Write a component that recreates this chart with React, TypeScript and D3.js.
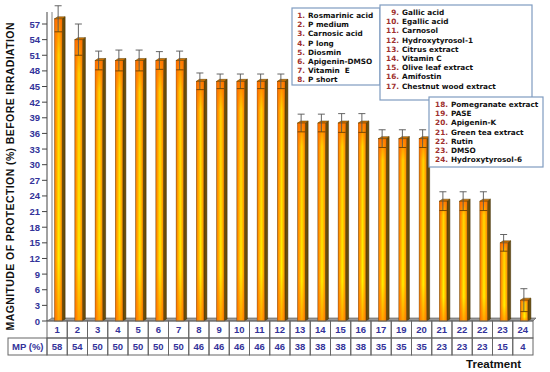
import React from "react";
import * as d3 from "d3";

// table header row (sic, as printed in the original)
const treatLabels = ["1", "2", "3", "4", "5", "6", "7", "8", "9", "10", "11", "12", "13", "14", "15", "16", "17", "19", "20", "21", "22", "22", "23", "24"];
const mpValues = [58, 54, 50, 50, 50, 50, 50, 46, 46, 46, 46, 46, 38, 38, 38, 38, 35, 35, 35, 23, 23, 23, 15, 4];
const errValues = [2.5, 3, 1.8, 2, 2, 1.7, 1.8, 1.6, 1.4, 1.4, 1.4, 1.4, 1.7, 1.7, 1.8, 1.8, 1.7, 1.7, 1.7, 1.8, 1.8, 1.8, 1.6, 2.2];
const yTicks = d3.range(0, 58, 3);

const legend1 = ["Rosmarinic acid", "P medium", "Carnosic acid", "P long", "Diosmin", "Apigenin-DMSO", "Vitamin  E", "P short"];
const legend2 = ["Gallic acid", "Egallic acid", "Carnosol", "Hydroxytyrosol-1", "Citrus extract", "Vitamin C", "Olive leaf extract", "Amifostin", "Chestnut wood extract"];
const legend3 = ["Pomegranate extract", "PASE", "Apigenin-K", "Green tea extract", "Rutin", "DMSO", "Hydroxytyrosol-6"];

const W = 550;
const H = 372;
const left = 47;
const right = 533;
const floorY = 321;
const blue = "#33339a";
const font = "Liberation Sans, Arial, sans-serif";
const legendFont = "DejaVu Sans, Verdana, sans-serif";

const x = d3
  .scaleBand<number>()
  .domain(d3.range(mpValues.length))
  .range([left, right]);
const y = d3.scaleLinear().domain([0, 57]).range([floorY, 24]);

const DX = 3;
const DY = -2;

function Legend({ items, start, bx, by, bw, bh, numX, nameX }: any) {
  return (
    <g>
      <rect x={bx} y={by} width={bw} height={bh} fill="#fff" stroke="#7f9cc0" strokeWidth={1.2} />
      {items.map((name: string, i: number) => (
        <g key={name} fontFamily={legendFont} fontWeight="bold" fontSize={7.3}>
          <text x={numX} y={by + 10 + i * 9.2} fill="#a0302e" textAnchor="end">
            {start + i}.
          </text>
          <text x={nameX} y={by + 10 + i * 9.2} fill="#111" style={{ whiteSpace: "pre" }}>
            {name}
          </text>
        </g>
      ))}
    </g>
  );
}

export default function App() {
  const bw = x.bandwidth();
  return (
    <svg width={W} height={H} style={{ position: "absolute", left: 0, top: 0, background: "#fff" }}>
      <defs>
        <linearGradient id="front" x1="0" x2="1" y1="0" y2="0">
          <stop offset="0%" stopColor="#ff7000" />
          <stop offset="55%" stopColor="#fff200" />
          <stop offset="100%" stopColor="#ff8a00" />
        </linearGradient>
        <linearGradient id="shade" x1="0" x2="0" y1="0" y2="1">
          <stop offset="0%" stopColor="#ff6a00" stopOpacity={0.85} />
          <stop offset="12%" stopColor="#ff6a00" stopOpacity={0.2} />
          <stop offset="80%" stopColor="#ff6a00" stopOpacity={0} />
          <stop offset="100%" stopColor="#ff6a00" stopOpacity={0.55} />
        </linearGradient>
      </defs>

      {/* y axis title */}
      <text
        transform={`translate(14,${(floorY + 24) / 2 + 4}) rotate(-90)`}
        textAnchor="middle"
        fontFamily={font}
        fontWeight="bold"
        fontSize={10.5}
        textLength={308}
        lengthAdjust="spacing"
        fill="#111"
      >
        MAGNITUDE OF PROTECTION  (%) BEFORE IRRADIATION
      </text>

      {/* floor and wall */}
      <polygon
        points={`${left},${floorY} ${left + DX + 2},${floorY + DY - 1} ${right + 3},${floorY + DY - 1} ${right},${floorY}`}
        fill="#9a9a9a"
        stroke="#555"
        strokeWidth={0.6}
      />
      <line x1={left} x2={left} y1={12} y2={floorY} stroke="#444" strokeWidth={1} />
      <line x1={left + DX + 2} x2={left + DX + 2} y1={12} y2={floorY + DY - 1} stroke="#666" strokeWidth={0.8} />

      {/* y ticks */}
      {yTicks.map((t) => (
        <g key={t}>
          <line x1={left - 5} x2={left} y1={y(t)} y2={y(t)} stroke="#444" />
          <text
            x={left - 7}
            y={y(t) + 3.5}
            textAnchor="end"
            fontFamily={font}
            fontWeight="bold"
            fontSize={9.5}
            fill={blue}
          >
            {t}
          </text>
        </g>
      ))}

      {/* bars */}
      {mpValues.map((v, i) => {
        const cx = x(i)! + bw / 2;
        const x0 = cx - 2.5;
        const x1 = cx + 5;
        const yt = y(v);
        const eTop = y(v + errValues[i]);
        const eBot = y(v - errValues[i]);
        return (
          <g key={i}>
            <polygon
              points={`${x1},${yt} ${x1 + DX},${yt + DY} ${x1 + DX},${floorY + DY} ${x1},${floorY}`}
              fill="#6a4c08"
              stroke="#3a2a00"
              strokeWidth={0.5}
            />
            <rect x={x0} y={yt} width={x1 - x0} height={floorY - yt} fill="url(#front)" stroke="#5a4000" strokeWidth={0.5} />
            <rect x={x0} y={yt} width={x1 - x0} height={floorY - yt} fill="url(#shade)" />
            <polygon
              points={`${x0},${yt} ${x0 + DX},${yt + DY} ${x1 + DX},${yt + DY} ${x1},${yt}`}
              fill="#d07000"
              stroke="#5a4000"
              strokeWidth={0.5}
            />
            <line x1={cx + 1} x2={cx + 1} y1={eTop} y2={eBot} stroke="#555" strokeWidth={0.9} />
            <line x1={cx - 2.5} x2={cx + 4.5} y1={eTop} y2={eTop} stroke="#555" strokeWidth={0.9} />
            <line x1={x0} x2={x1} y1={eBot} y2={eBot} stroke="#6a4000" strokeWidth={0.9} />
          </g>
        );
      })}

      {/* legends */}
      <Legend items={legend1} start={1} bx={292} by={8} bw={88} bh={77} numX={305} nameX={308} />
      <Legend items={legend2} start={9} bx={380} by={5} bw={152} bh={95} numX={399} nameX={402} />
      <Legend items={legend3} start={18} bx={429} by={97} bw={114} bh={70} numX={448} nameX={451} />

      {/* data table */}
      <g fontFamily={font} fontWeight="bold" fontSize={9.5} fill={blue}>
        <rect x={8} y={338} width={left - 8} height={17} fill="none" stroke="#666" />
        <text x={12} y={350} fill={blue}>
          MP (%)
        </text>
        {treatLabels.map((lab, i) => (
          <g key={i}>
            <rect x={x(i)} y={floorY} width={bw} height={17} fill="none" stroke="#666" />
            <rect x={x(i)} y={338} width={bw} height={17} fill="none" stroke="#666" />
            <text x={x(i)! + bw / 2} y={333} textAnchor="middle" fill={blue}>
              {lab}
            </text>
            <text x={x(i)! + bw / 2} y={350} textAnchor="middle" fill={blue}>
              {mpValues[i]}
            </text>
          </g>
        ))}
      </g>

      <text x={521} y={368} textAnchor="end" fontFamily={font} fontWeight="bold" fontSize={11.5} fill="#111">
        Treatment
      </text>
    </svg>
  );
}
